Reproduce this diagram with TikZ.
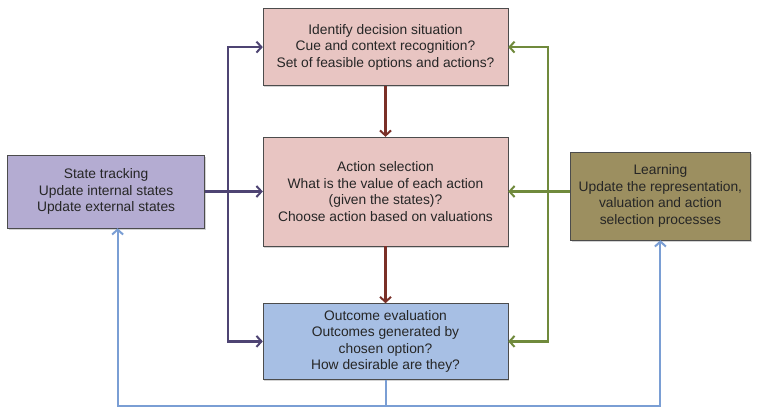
\documentclass[tikz,border=0pt]{standalone}
\usepackage{fontspec}
\setmainfont{Liberation Sans}
\usetikzlibrary{positioning,arrows.meta,shadows}
\definecolor{pinkfill}{RGB}{232,197,194}
\definecolor{bluefill}{RGB}{167,191,228}
\definecolor{lilacfill}{RGB}{180,172,210}
\definecolor{olivefill}{RGB}{156,143,96}
\definecolor{purpleln}{RGB}{78,68,115}
\definecolor{greenln}{RGB}{112,138,60}
\definecolor{brownln}{RGB}{122,48,40}
\definecolor{blueln}{RGB}{122,158,212}
\tikzset{
  box/.style={rectangle, draw=black!70, thin, align=center, text=black!85,
              font=\fontsize{13.8}{16.6}\selectfont,
              drop shadow={opacity=0.35, shadow xshift=1.2pt, shadow yshift=-1.5pt}},
  pink/.style={fill=pinkfill},
  blue/.style={fill=bluefill},
  lilac/.style={fill=lilacfill},
  olive/.style={fill=olivefill},
  tip/.style={-{Straight Barb[length=5pt, width=11pt, line width=2pt]}},
  purplearr/.style={tip, draw=purpleln, line width=2.6pt},
  greenarr/.style={tip, draw=greenln, line width=2.6pt},
  brownarr/.style={tip, draw=brownln, line width=2.6pt},
  bluearr/.style={tip, draw=blueln, line width=2pt},
}
\begin{document}
\begin{tikzpicture}[x=1pt, y=-1pt]
\useasboundingbox (0,0) rectangle (762,416);
%Nodes
\node[box, pink, minimum width=245pt, minimum height=109pt] (action) at (385.5,191.5)
  {Action selection\\What is the value of each action\\(given the states)?\\Choose action based on valuations};
\node[box, pink, minimum width=245pt, minimum height=77pt] (ident) [above=51pt of action]
  {Identify decision situation\\Cue and context recognition?\\Set of feasible options and actions?};
\node[box, blue, minimum width=245pt, minimum height=76pt] (outcome) [below=57pt of action]
  {Outcome evaluation\\Outcomes generated by\\chosen option?\\How desirable are they?};
\node[box, lilac, minimum width=197pt, minimum height=73pt] (state) [left=58pt of action]
  {State tracking\\Update internal states\\Update external states};
\node[box, olive, minimum width=180pt, minimum height=88pt] (learn) [right=62pt of action, yshift=-4.5pt]
  {Learning\\Update the representation,\\valuation and action\\selection processes};
\coordinate (pjoin) at (228,191.5);
\coordinate (gjoin) at (548,191.5);
\coordinate (bjoin) at (385.5,406);

%Lines
\draw[brownarr] (ident.south) -- (action.north);
\draw[brownarr] (action.south) -- (outcome.north);
\draw[purplearr] (pjoin) |- (ident.west);
\draw[purplearr] (pjoin) |- (outcome.west);
\draw[purplearr] (state.east) -- (action.west);
\draw[greenarr] (gjoin) |- (ident.east);
\draw[greenarr] (gjoin) |- (outcome.east);
\draw[greenarr] (learn.west |- action.east) -- (action.east);
\draw[blueln, line width=2pt] (outcome.south) -- (bjoin);
\draw[bluearr] (bjoin) -| ([xshift=11.5pt]state.south);
\draw[bluearr] (bjoin) -| (learn.south);
\end{tikzpicture}
\end{document}
